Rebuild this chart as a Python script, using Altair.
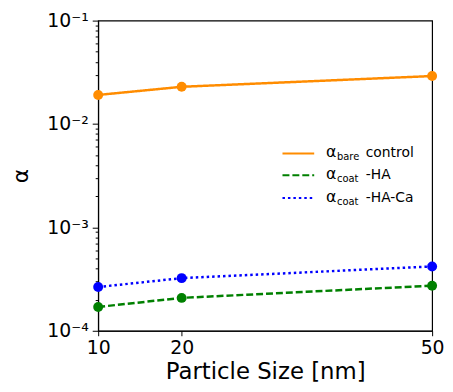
import altair as alt
import pandas as pd

sizes = [10, 20, 50]
alpha_bare = [0.0191, 0.0229, 0.0291]
alpha_ha = [1.70e-4, 2.08e-4, 2.73e-4]
alpha_haca = [2.65e-4, 3.23e-4, 4.19e-4]

series_names = ["bare control", "coat -HA", "coat -HA-Ca"]
series_colors = ["#ff8c00", "#008000", "#0000ff"]
series_dash = [[1, 0], [7, 3], [2.5, 3]]
legend_sub = ["bare", "coat", "coat"]
legend_rest = ["control", "-HA", "-HA-Ca"]

x_ticks = [10, 20, 50]
decades = [1e-4, 1e-3, 1e-2, 1e-1]
decade_labels = ["10⁻⁴", "10⁻³", "10⁻²", "10⁻¹"]

FONT = "DejaVu Sans"

rows = []
for name, vals in zip(series_names, [alpha_bare, alpha_ha, alpha_haca]):
    for s, v in zip(sizes, vals):
        rows.append({"size": s, "alpha": v, "series": name})
df = pd.DataFrame(rows)

y_values = []
for d in decades[:-1]:
    for m in range(1, 10):
        y_values.append(m * d)
y_values.append(decades[-1])

label_expr = " : ".join(
    f"datum.value == {d} ? '{l}'" for d, l in zip(decades, decade_labels)
) + " : ''"
major_test = "indexof([" + ",".join(str(d) for d in decades) + "], datum.value) >= 0"

xenc = alt.X(
    "size:Q",
    scale=alt.Scale(domain=[10, 50], nice=False, zero=False),
    axis=alt.Axis(
        values=x_ticks, title="Particle Size [nm]", grid=False,
        labelFontSize=19, titleFontSize=23, labelFont=FONT, titleFont=FONT,
        titleFontWeight="normal", domainColor="black", tickColor="black",
        labelColor="black", titleColor="black", tickSize=5, labelPadding=3,
        titlePadding=3, labelFlush=False,
    ),
)
yenc = alt.Y(
    "alpha:Q",
    scale=alt.Scale(type="log", domain=[1e-4, 1e-1], nice=False),
    axis=alt.Axis(
        values=y_values, labelExpr=label_expr, title="α", grid=False,
        labelFontSize=19, titleFontSize=22, labelFont=FONT, titleFont=FONT,
        titleFontWeight="normal", domainColor="black", tickColor="black",
        labelColor="black", titleColor="black",
        tickSize={"condition": {"test": major_test, "value": 6}, "value": 3},
        labelPadding=4, titlePadding=14, labelFlush=False,
    ),
)
color = alt.Color("series:N", scale=alt.Scale(domain=series_names, range=series_colors), legend=None)
dash = alt.StrokeDash("series:N", scale=alt.Scale(domain=series_names, range=series_dash), legend=None)

base = alt.Chart(df)
lines = base.mark_line(strokeWidth=2.5).encode(x=xenc, y=yenc, color=color, strokeDash=dash)
points = base.mark_point(filled=True, size=100, opacity=1).encode(x=xenc, y=yenc, color=color)

layers = [lines, points]
one = pd.DataFrame({"k": [0]})
row_y = [134, 156, 179]
for i in range(3):
    yy = row_y[i]
    layers.append(
        alt.Chart(one).mark_rule(color=series_colors[i], strokeWidth=2,
                                 strokeDash=series_dash[i]).encode(
            x=alt.value(186), x2=alt.value(218), y=alt.value(yy))
    )
    layers.append(
        alt.Chart(one).mark_text(text="α", align="left", baseline="middle",
                                 fontSize=16, font=FONT, color="black").encode(
            x=alt.value(230), y=alt.value(yy - 1))
    )
    layers.append(
        alt.Chart(one).mark_text(text=legend_sub[i], align="left", baseline="middle",
                                 fontSize=10, font=FONT, color="black").encode(
            x=alt.value(241), y=alt.value(yy + 4))
    )
    layers.append(
        alt.Chart(one).mark_text(text=legend_rest[i], align="left", baseline="middle",
                                 fontSize=14, font=FONT, color="black").encode(
            x=alt.value(270), y=alt.value(yy))
    )

chart = alt.layer(*layers).properties(
    width=337, height=313, background="white",
    padding={"left": 2, "top": 2, "right": 0, "bottom": 0},
).configure_view(stroke="black", strokeWidth=1.2)

chart.save("out.html", embed_options={"renderer": "svg", "actions": False})
